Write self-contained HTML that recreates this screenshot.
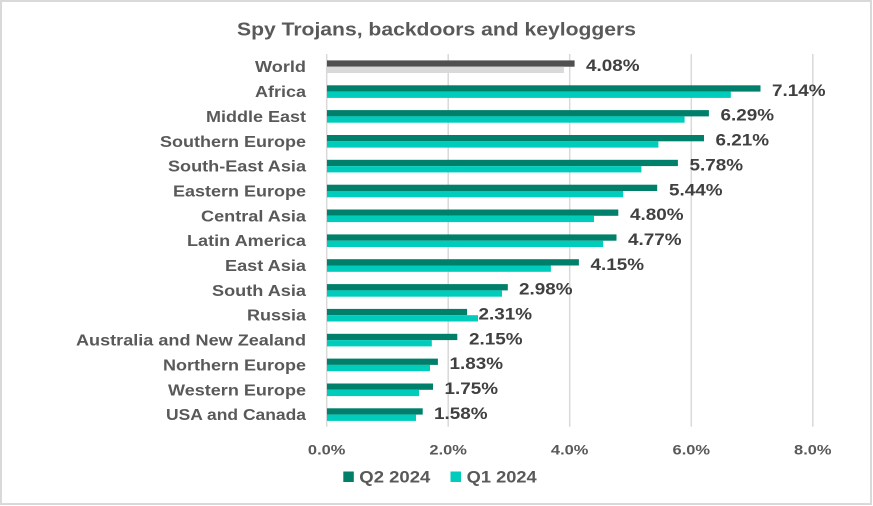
<!DOCTYPE html>
<html>
<head>
<meta charset="utf-8">
<style>
  html,body{margin:0;padding:0;background:#fff;}
  svg{display:block;}
  text{font-family:"Liberation Sans",Arial,sans-serif;font-weight:bold;}
</style>
</head>
<body>
<svg width="873" height="506" viewBox="0 0 873 506" xmlns="http://www.w3.org/2000/svg">
  <rect x="0" y="0" width="873" height="506" fill="#ffffff"/>
  <rect x="1" y="1" width="870" height="503" fill="none" stroke="#d9d9d9" stroke-width="2"/>

  <!-- Title -->
  <text x="237" y="35.7" font-size="18" fill="#595959" textLength="399" lengthAdjust="spacingAndGlyphs">Spy Trojans, backdoors and keyloggers</text>

  <!-- gridlines -->
  <g stroke="#d9d9d9" stroke-width="1.5">
    <line x1="326.7" y1="54" x2="326.7" y2="426.7"/>
    <line x1="448.2" y1="54" x2="448.2" y2="426.7"/>
    <line x1="569.7" y1="54" x2="569.7" y2="426.7"/>
    <line x1="691.3" y1="54" x2="691.3" y2="426.7"/>
    <line x1="812.8" y1="54" x2="812.8" y2="426.7"/>
  </g>

  <!-- Bars: center c = 54 + 24.85*(i+0.5) + 0.3 ; end = 326.7 + v*60.76 -->
  <!-- World i=0 c=66.7 -->
  <rect x="327" y="60.4" width="247.6" height="6.3" fill="#505050"/>
  <rect x="327" y="66.7" width="236.9" height="6.3" fill="#d9d9d9"/>
  <!-- Africa i=1 c=91.6 -->
  <rect x="327" y="85.3" width="433.5" height="6.3" fill="#007f6b"/>
  <rect x="327" y="91.6" width="403.8" height="6.3" fill="#00ccbc"/>
  <!-- Middle East i=2 c=116.4 -->
  <rect x="327" y="110.1" width="381.9" height="6.3" fill="#007f6b"/>
  <rect x="327" y="116.4" width="357.6" height="6.3" fill="#00ccbc"/>
  <!-- Southern Europe i=3 c=141.3 -->
  <rect x="327" y="135.0" width="377.0" height="6.3" fill="#007f6b"/>
  <rect x="327" y="141.3" width="331.4" height="6.3" fill="#00ccbc"/>
  <!-- South-East Asia i=4 c=166.1 -->
  <rect x="327" y="159.8" width="350.9" height="6.3" fill="#007f6b"/>
  <rect x="327" y="166.1" width="314.4" height="6.3" fill="#00ccbc"/>
  <!-- Eastern Europe i=5 c=191.0 -->
  <rect x="327" y="184.7" width="330.2" height="6.3" fill="#007f6b"/>
  <rect x="327" y="191.0" width="296.2" height="6.3" fill="#00ccbc"/>
  <!-- Central Asia i=6 c=215.8 -->
  <rect x="327" y="209.5" width="291.3" height="6.3" fill="#007f6b"/>
  <rect x="327" y="215.8" width="267.0" height="6.3" fill="#00ccbc"/>
  <!-- Latin America i=7 c=240.7 -->
  <rect x="327" y="234.4" width="289.5" height="6.3" fill="#007f6b"/>
  <rect x="327" y="240.7" width="276.2" height="6.3" fill="#00ccbc"/>
  <!-- East Asia i=8 c=265.5 -->
  <rect x="327" y="259.2" width="251.9" height="6.3" fill="#007f6b"/>
  <rect x="327" y="265.5" width="223.9" height="6.3" fill="#00ccbc"/>
  <!-- South Asia i=9 c=290.4 -->
  <rect x="327" y="284.1" width="180.8" height="6.3" fill="#007f6b"/>
  <rect x="327" y="290.4" width="175.0" height="6.3" fill="#00ccbc"/>
  <!-- Russia i=10 c=315.2 -->
  <rect x="327" y="308.9" width="140.1" height="6.3" fill="#007f6b"/>
  <rect x="327" y="315.2" width="151.0" height="6.3" fill="#00ccbc"/>
  <!-- ANZ i=11 c=340.1 -->
  <rect x="327" y="333.8" width="130.3" height="6.3" fill="#007f6b"/>
  <rect x="327" y="340.1" width="104.8" height="6.3" fill="#00ccbc"/>
  <!-- Northern Europe i=12 c=364.9 -->
  <rect x="327" y="358.6" width="110.9" height="6.3" fill="#007f6b"/>
  <rect x="327" y="364.9" width="103.0" height="6.3" fill="#00ccbc"/>
  <!-- Western Europe i=13 c=389.8 -->
  <rect x="327" y="383.5" width="106.0" height="6.3" fill="#007f6b"/>
  <rect x="327" y="389.8" width="92.1" height="6.3" fill="#00ccbc"/>
  <!-- USA and Canada i=14 c=414.6 -->
  <rect x="327" y="408.3" width="95.7" height="6.3" fill="#007f6b"/>
  <rect x="327" y="414.6" width="89.0" height="6.3" fill="#00ccbc"/>

  <!-- Category labels (right aligned at 306) -->
  <g font-size="16" fill="#595959" text-anchor="end">
    <text x="306" y="72.2" textLength="51" lengthAdjust="spacingAndGlyphs">World</text>
    <text x="306" y="97.1" textLength="51" lengthAdjust="spacingAndGlyphs">Africa</text>
    <text x="306" y="121.9" textLength="100" lengthAdjust="spacingAndGlyphs">Middle East</text>
    <text x="306" y="146.8" textLength="146" lengthAdjust="spacingAndGlyphs">Southern Europe</text>
    <text x="306" y="171.6" textLength="138" lengthAdjust="spacingAndGlyphs">South-East Asia</text>
    <text x="306" y="196.5" textLength="133" lengthAdjust="spacingAndGlyphs">Eastern Europe</text>
    <text x="306" y="221.3" textLength="105" lengthAdjust="spacingAndGlyphs">Central Asia</text>
    <text x="306" y="246.2" textLength="119" lengthAdjust="spacingAndGlyphs">Latin America</text>
    <text x="306" y="271.0" textLength="81" lengthAdjust="spacingAndGlyphs">East Asia</text>
    <text x="306" y="295.9" textLength="94" lengthAdjust="spacingAndGlyphs">South Asia</text>
    <text x="306" y="320.7" textLength="59" lengthAdjust="spacingAndGlyphs">Russia</text>
    <text x="306" y="345.6" textLength="230" lengthAdjust="spacingAndGlyphs">Australia and New Zealand</text>
    <text x="306" y="370.4" textLength="143" lengthAdjust="spacingAndGlyphs">Northern Europe</text>
    <text x="306" y="395.3" textLength="138" lengthAdjust="spacingAndGlyphs">Western Europe</text>
    <text x="306" y="420.1" textLength="140" lengthAdjust="spacingAndGlyphs">USA and Canada</text>
  </g>

  <!-- Data labels -->
  <g font-size="17" fill="#404040">
    <text x="586" y="71.0" textLength="53.5" lengthAdjust="spacingAndGlyphs">4.08%</text>
    <text x="772" y="95.9" textLength="53.5" lengthAdjust="spacingAndGlyphs">7.14%</text>
    <text x="720.5" y="120.7" textLength="53.5" lengthAdjust="spacingAndGlyphs">6.29%</text>
    <text x="715.5" y="145.6" textLength="53.5" lengthAdjust="spacingAndGlyphs">6.21%</text>
    <text x="689.5" y="170.4" textLength="53.5" lengthAdjust="spacingAndGlyphs">5.78%</text>
    <text x="669" y="195.3" textLength="53.5" lengthAdjust="spacingAndGlyphs">5.44%</text>
    <text x="630" y="220.1" textLength="53.5" lengthAdjust="spacingAndGlyphs">4.80%</text>
    <text x="628" y="245.0" textLength="53.5" lengthAdjust="spacingAndGlyphs">4.77%</text>
    <text x="590.5" y="269.8" textLength="53.5" lengthAdjust="spacingAndGlyphs">4.15%</text>
    <text x="519" y="294.7" textLength="53.5" lengthAdjust="spacingAndGlyphs">2.98%</text>
    <text x="478.5" y="319.5" textLength="53.5" lengthAdjust="spacingAndGlyphs">2.31%</text>
    <text x="469" y="344.4" textLength="53.5" lengthAdjust="spacingAndGlyphs">2.15%</text>
    <text x="449.5" y="369.2" textLength="53.5" lengthAdjust="spacingAndGlyphs">1.83%</text>
    <text x="444.5" y="394.1" textLength="53.5" lengthAdjust="spacingAndGlyphs">1.75%</text>
    <text x="434" y="418.9" textLength="53.5" lengthAdjust="spacingAndGlyphs">1.58%</text>
  </g>

  <!-- Axis tick labels -->
  <g font-size="14" fill="#595959" text-anchor="middle">
    <text x="326.7" y="454.3" textLength="37.5" lengthAdjust="spacingAndGlyphs">0.0%</text>
    <text x="448.2" y="454.3" textLength="37.5" lengthAdjust="spacingAndGlyphs">2.0%</text>
    <text x="569.7" y="454.3" textLength="37.5" lengthAdjust="spacingAndGlyphs">4.0%</text>
    <text x="691.3" y="454.3" textLength="37.5" lengthAdjust="spacingAndGlyphs">6.0%</text>
    <text x="812.8" y="454.3" textLength="37.5" lengthAdjust="spacingAndGlyphs">8.0%</text>
  </g>

  <!-- Legend -->
  <rect x="343.3" y="471.5" width="10.5" height="10.5" fill="#007f6b"/>
  <text x="359.3" y="482.3" font-size="17" fill="#595959" textLength="71" lengthAdjust="spacingAndGlyphs">Q2 2024</text>
  <rect x="450.5" y="471.5" width="10.5" height="10.5" fill="#00ccbc"/>
  <text x="466.7" y="482.3" font-size="17" fill="#595959" textLength="70" lengthAdjust="spacingAndGlyphs">Q1 2024</text>
</svg>
</body>
</html>
